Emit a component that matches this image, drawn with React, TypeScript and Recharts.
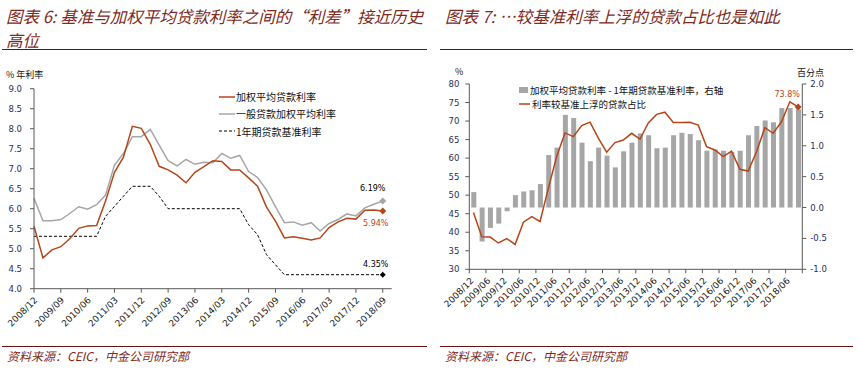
import React from 'react';
import { ComposedChart, Line, Bar, XAxis, YAxis, Legend, LabelList } from 'recharts';

// ---------- data ----------
const leftTickLabels = ['2008/12', '2009/09', '2010/06', '2011/03', '2011/12', '2012/09', '2013/06', '2014/03', '2014/12', '2015/09', '2016/06', '2017/03', '2017/12', '2018/09'];
const rightTickLabels = ['2008/12', '2009/06', '2009/12', '2010/06', '2010/12', '2011/06', '2011/12', '2012/06', '2012/12', '2013/06', '2013/12', '2014/06', '2014/12', '2015/06', '2015/12', '2016/06', '2016/12', '2017/06', '2017/12', '2018/06'];

// quarterly, 2008Q4 .. 2018Q3
const weightedRate = [5.56, 4.77, 4.97, 5.05, 5.25, 5.51, 5.57, 5.58, 6.19, 6.91, 7.29, 8.06, 8.01, 7.61, 7.06, 6.97, 6.84, 6.65, 6.91, 7.05, 7.2, 7.18, 6.97, 6.97, 6.77, 6.56, 6.04, 5.69, 5.27, 5.3, 5.26, 5.22, 5.27, 5.53, 5.67, 5.76, 5.74, 5.96, 5.97, 5.94];
const generalRate = [6.26, 5.7, 5.7, 5.73, 5.88, 6.05, 5.99, 6.1, 6.34, 7.09, 7.38, 7.8, 7.8, 7.98, 7.59, 7.2, 7.07, 7.23, 7.11, 7.16, 7.15, 7.38, 7.26, 7.33, 6.93, 6.78, 6.47, 6.05, 5.65, 5.67, 5.59, 5.65, 5.44, 5.63, 5.73, 5.87, 5.82, 6.02, 6.11, 6.19];
const benchmarkRate = [5.31, 5.31, 5.31, 5.31, 5.31, 5.31, 5.31, 5.31, 5.81, 6.06, 6.31, 6.56, 6.56, 6.56, 6.31, 6.0, 6.0, 6.0, 6.0, 6.0, 6.0, 6.0, 6.0, 6.0, 5.6, 5.35, 4.85, 4.6, 4.35, 4.35, 4.35, 4.35, 4.35, 4.35, 4.35, 4.35, 4.35, 4.35, 4.35, 4.35];
const spreadPts = [0.25, -0.55, -0.33, -0.26, -0.06, 0.2, 0.26, 0.28, 0.38, 0.85, 0.97, 1.5, 1.45, 1.05, 0.75, 0.97, 0.84, 0.65, 0.91, 1.05, 1.2, 1.17, 0.96, 0.97, 1.17, 1.21, 1.19, 1.09, 0.92, 0.94, 0.92, 0.9, 0.92, 1.17, 1.32, 1.41, 1.38, 1.61, 1.61, 1.59];
const floatShare = [45.3, 38.8, 38.7, 37.1, 38.3, 36.7, 42.7, 44.2, 42.9, 51.9, 60.5, 66.8, 65.8, 68.8, 69.7, 65.4, 61.6, 64.2, 64.9, 66.7, 65.1, 69.5, 71.8, 72.4, 69.6, 69.6, 69.7, 68.9, 63.1, 62.2, 60.4, 61.9, 57.0, 56.5, 61.7, 68.2, 66.7, 69.8, 75.2, 73.8];

const leftYTicks = [4, 4.5, 5, 5.5, 6, 6.5, 7, 7.5, 8, 8.5, 9];
const rightYTicksL = [30, 35, 40, 45, 50, 55, 60, 65, 70, 75, 80];
const rightYTicksR = [-1, -0.5, 0, 0.5, 1, 1.5, 2];

const leftData = weightedRate.map((v, i) => ({ i, w: v, g: generalRate[i], b: benchmarkRate[i] }));
const rightData = spreadPts.map((v, i) => ({ x: i + 0.5, s: v, f: floatShare[i] }));
const LAST = weightedRate.length - 1;
const leftTicks = leftTickLabels.map((_, k) => k * 3);
const rightTicks = [...rightTickLabels.map((_, k) => k * 2), rightData.length];

// ---------- style ----------
const FONT_NUM = '"DejaVu Sans", Verdana, sans-serif';
const FONT_CJK = '"Noto Sans CJK SC", "Noto Sans", sans-serif';
const ORANGE = '#B5461B';
const GRAY = '#A6A6A6';
const NAVY = '#1F2F5A';
const AX = '#595959';
const TITLE = '#7E2A1E';
const RULE = '#6A0F0F';

const RotTick = (labels: string[], step: number, dx: number, dy: number, fs: number) => (props: any) => {
  const { x, y, payload } = props;
  const k = Math.round(payload.value / step);
  const label = labels[k] ?? '';
  return (
    <g transform={`translate(${x + dx},${y + dy})`}>
      <text x={0} y={0} textAnchor="end" transform="rotate(-45)" fontSize={fs} fontFamily={FONT_NUM} fill="#1a1a1a">
        {label}
      </text>
    </g>
  );
};

const lastDot = (color: string, r: number) => (p: any) => {
  if (p.index !== LAST) return <g key={`d${p.index}`} />;
  const { cx, cy } = p;
  return <path key={`d${p.index}`} d={`M${cx},${cy - r}L${cx + r},${cy}L${cx},${cy + r}L${cx - r},${cy}Z`} fill={color} />;
};

const lastLabel = (color: string, dx: number, dy: number) => (p: any) => {
  if (p.index !== LAST) return null;
  return (
    <text x={p.x + dx} y={p.y + dy} dy="0.35em" textAnchor="middle" fontSize={8} fontFamily={FONT_NUM} fill={color}>
      {`${Number(p.value).toFixed(p.value > 10 ? 1 : 2)}%`}
    </text>
  );
};

const leftLegendItems = [
  { label: '加权平均贷款利率', color: ORANGE, dash: undefined as string | undefined, w: 1.5 },
  { label: '一般贷款加权平均利率', color: GRAY, dash: undefined as string | undefined, w: 1.5 },
  { label: '1年期贷款基准利率', color: '#000', dash: '3 2', w: 1 },
];

const LeftLegend = () => (
  <div style={{ fontFamily: FONT_CJK, fontSize: 10, color: '#111' }}>
    {leftLegendItems.map((it) => (
      <div key={it.label} style={{ height: 17.3, display: 'flex', alignItems: 'center', whiteSpace: 'nowrap' }}>
        <svg width={16} height={10} style={{ marginRight: 1 }}>
          <line x1={0} x2={16} y1={5} y2={5} stroke={it.color} strokeWidth={it.w} strokeDasharray={it.dash} />
        </svg>
        <span>{it.label}</span>
      </div>
    ))}
  </div>
);

const RightLegend = () => (
  <div style={{ fontFamily: FONT_CJK, fontSize: 9.5, color: '#111' }}>
    <div style={{ height: 13.8, display: 'flex', alignItems: 'center', whiteSpace: 'nowrap' }}>
      <svg width={10} height={8} style={{ marginRight: 1 }}>
        <rect x={0} y={1} width={9} height={6} fill={GRAY} />
      </svg>
      <span>加权平均贷款利率 - 1年期贷款基准利率，右轴</span>
    </div>
    <div style={{ height: 13.8, display: 'flex', alignItems: 'center', whiteSpace: 'nowrap' }}>
      <svg width={12} height={8} style={{ marginRight: 1 }}>
        <line x1={0} x2={11} y1={4} y2={4} stroke={ORANGE} strokeWidth={1.5} />
      </svg>
      <span>利率较基准上浮的贷款占比</span>
    </div>
  </div>
);

const titleStyle: React.CSSProperties = {
  position: 'absolute',
  fontFamily: FONT_CJK,
  fontStyle: 'italic',
  fontSize: 16.5,
  color: TITLE,
  lineHeight: '24px',
  whiteSpace: 'nowrap',
};
const sourceStyle: React.CSSProperties = {
  position: 'absolute',
  fontFamily: FONT_CJK,
  fontStyle: 'italic',
  fontSize: 12,
  color: TITLE,
  whiteSpace: 'nowrap',
};
const rule = (left: number, top: number, width: number): React.CSSProperties => ({
  position: 'absolute', left, top, width, height: 0, borderTop: `1.5px solid ${RULE}`,
});
const smallLabel: React.CSSProperties = { position: 'absolute', fontFamily: FONT_CJK, fontSize: 9, lineHeight: '10px', color: '#111', whiteSpace: 'nowrap' };

export default function App() {
  return (
    <div style={{ position: 'absolute', left: 0, top: 0, width: 859, height: 374, background: '#fff', overflow: 'hidden' }}>
      {/* titles */}
      <div style={{ ...titleStyle, left: 6, top: 4 }}>
        <div>图表 6: 基准与加权平均贷款利率之间的“利差”接近历史</div>
        <div>高位</div>
      </div>
      <div style={{ ...titleStyle, left: 445, top: 4 }}>
        <div>图表 7: …较基准利率上浮的贷款占比也是如此</div>
      </div>
      <div style={rule(2, 48.5, 425)} />
      <div style={rule(440, 48.5, 413)} />
      <div style={rule(2, 345.5, 425)} />
      <div style={rule(440, 345.5, 413)} />
      <div style={{ ...sourceStyle, left: 7, top: 347 }}>资料来源：CEIC，中金公司研究部</div>
      <div style={{ ...sourceStyle, left: 445, top: 347 }}>资料来源：CEIC，中金公司研究部</div>

      {/* axis unit labels */}
      <div style={{ ...smallLabel, left: 6, top: 70 }}>% 年利率</div>
      <div style={{ ...smallLabel, left: 455, top: 67 }}>%</div>
      <div style={{ ...smallLabel, left: 797, top: 67.5 }}>百分点</div>

      {/* left chart */}
      <ComposedChart
        width={430}
        height={374}
        data={leftData}
        margin={{ top: 88.7, right: 38.3, bottom: 55.3, left: 4 }}
        style={{ position: 'absolute', left: 0, top: 0 }}
      >
        <XAxis xAxisId="b" dataKey="i" type="number" domain={[0, 40]} ticks={leftTicks} interval={0}
          tick={RotTick(leftTickLabels, 3, 4, 6, 9)} tickSize={4} tickLine={{ stroke: AX }} axisLine={{ stroke: AX }} height={30} />
        <XAxis xAxisId="t" dataKey="i" type="number" domain={[0, 40]} orientation="top" tick={false} tickLine={false}
          axisLine={{ stroke: AX }} height={0} />
        <YAxis yAxisId="l" type="number" domain={[4, 9]} ticks={leftYTicks} interval={0} tickFormatter={(v: number) => v.toFixed(1)}
          tick={{ fontSize: 8.5, fill: NAVY, fontFamily: FONT_NUM }} tickSize={4} tickMargin={8} width={30}
          axisLine={{ stroke: AX }} tickLine={{ stroke: AX }} />
        <YAxis yAxisId="r" orientation="right" type="number" domain={[4, 9]} tick={false} tickLine={false}
          axisLine={{ stroke: AX }} width={0} />
        <Line xAxisId="b" yAxisId="l" dataKey="b" stroke="#000" strokeWidth={1} strokeDasharray="3 2" dot={lastDot('#000', 3)}
          activeDot={false} isAnimationActive={false}>
          <LabelList dataKey="b" content={lastLabel('#000', -7, -11)} />
        </Line>
        <Line xAxisId="b" yAxisId="l" dataKey="g" stroke={GRAY} strokeWidth={1.5} dot={lastDot(GRAY, 3.5)}
          activeDot={false} isAnimationActive={false}>
          <LabelList dataKey="g" content={lastLabel('#000', -10, -12.5)} />
        </Line>
        <Line xAxisId="b" yAxisId="l" dataKey="w" stroke={ORANGE} strokeWidth={1.5} dot={lastDot(ORANGE, 3.5)}
          activeDot={false} isAnimationActive={false}>
          <LabelList dataKey="w" content={lastLabel(ORANGE, -7, 12)} />
        </Line>
        <Legend layout="vertical" align="center" verticalAlign="middle" content={<LeftLegend />}
          wrapperStyle={{ left: 219, top: 88, width: 190, height: 54 }} />
      </ComposedChart>

      {/* right chart */}
      <ComposedChart
        width={429}
        height={374}
        data={rightData}
        margin={{ top: 84, right: 26.7, bottom: 74.7, left: 9.3 }}
        style={{ position: 'absolute', left: 430, top: 0 }}
      >
        <XAxis xAxisId="b" dataKey="x" type="number" domain={[0, 40]} ticks={rightTicks} interval={0}
          tick={RotTick(rightTickLabels, 2, 5, 6, 9)} tickSize={4} tickLine={{ stroke: AX }} axisLine={{ stroke: AX }} height={30} />
        <XAxis xAxisId="t" dataKey="x" type="number" domain={[0, 40]} orientation="top" tick={false} tickLine={false}
          axisLine={{ stroke: AX }} height={0} />
        <YAxis yAxisId="l" type="number" domain={[30, 80]} ticks={rightYTicksL} interval={0}
          tick={{ fontSize: 8.5, fill: NAVY, fontFamily: FONT_NUM }} tickSize={4} tickMargin={6} width={30}
          axisLine={{ stroke: AX }} tickLine={{ stroke: AX }} />
        <YAxis yAxisId="r" orientation="right" type="number" domain={[-1, 2]} ticks={rightYTicksR} interval={0}
          tickFormatter={(v: number) => v.toFixed(1)}
          tick={{ fontSize: 8.5, fill: NAVY, fontFamily: FONT_NUM }} tickSize={4} tickMargin={4} width={30}
          axisLine={{ stroke: AX }} tickLine={{ stroke: AX }} />
        <Bar xAxisId="b" yAxisId="r" dataKey="s" fill={GRAY} barSize={5} isAnimationActive={false} />
        <Line xAxisId="b" yAxisId="l" dataKey="f" stroke={ORANGE} strokeWidth={1.5} dot={lastDot(ORANGE, 3.5)}
          activeDot={false} isAnimationActive={false}>
          <LabelList dataKey="f" content={lastLabel(ORANGE, -11, -13)} />
        </Line>
        <Legend layout="vertical" align="center" verticalAlign="middle" content={<RightLegend />}
          wrapperStyle={{ left: 89, top: 83.4, width: 300, height: 28 }} />
      </ComposedChart>
    </div>
  );
}
